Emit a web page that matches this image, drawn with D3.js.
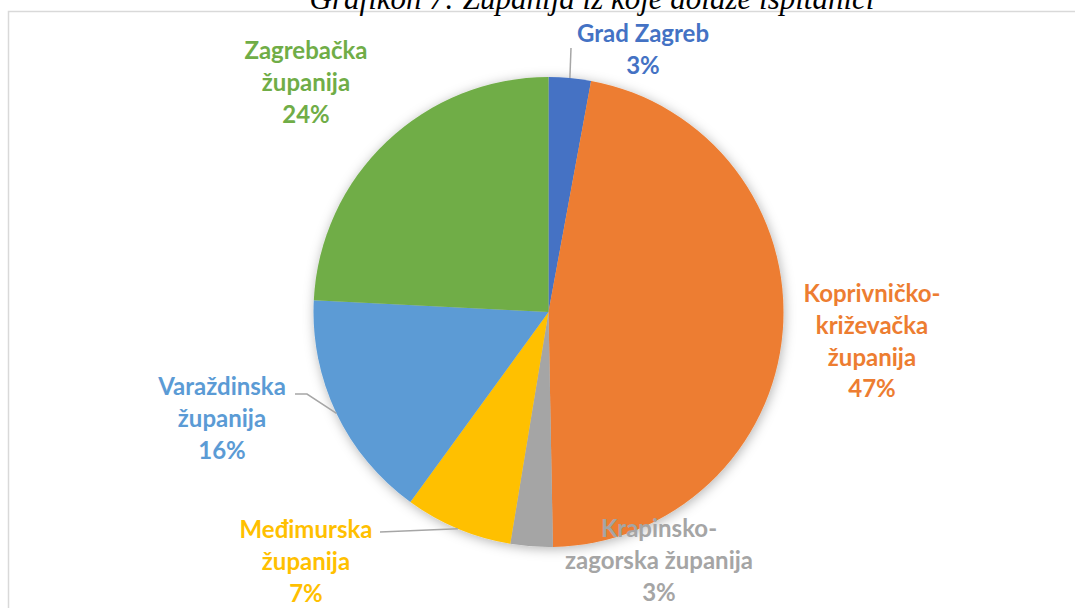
<!DOCTYPE html>
<html>
<head>
<meta charset="utf-8">
<script src="https://cdn.jsdelivr.net/npm/d3@7"></script>
<style>
  html, body { margin: 0; padding: 0; background: #fff; overflow: hidden; }
  .lbl { font-family: Lato, "Open Sans", sans-serif; font-weight: bold; font-size: 24px; }
  .title { font-family: "Liberation Serif", "Times New Roman", serif; font-style: italic; font-size: 31px; }
</style>
</head>
<body>
<svg id="svg" width="1075" height="608"></svg>
<script>
// data (shares in %, labels as printed)
var categories = ['Grad Zagreb', 'Koprivničko-križevačka županija', 'Krapinsko-zagorska županija',
                  'Međimurska županija', 'Varaždinska županija', 'Zagrebačka županija'];
var shares = [2.9, 46.8, 2.9, 7.4, 15.8, 24.2];
var percentLabels = ['3%', '47%', '3%', '7%', '16%', '24%'];
var labelLines = [
    ['Grad Zagreb'],
    ['Koprivničko-', 'križevačka', 'županija'],
    ['Krapinsko-', 'zagorska županija'],
    ['Međimurska', 'županija'],
    ['Varaždinska', 'županija'],
    ['Zagrebačka', 'županija']
];
var colors = ['#4472C4', '#ED7D31', '#A5A5A5', '#FFC000', '#5B9BD5', '#70AD47'];

// layout: label anchor (centre x, first baseline) and the leader line's outer points
var labelLayout = [
    { x: 643, y: 42, leader: [[571, 48]] },
    { x: 872, y: 302 },
    { x: 659, y: 537 },
    { x: 306, y: 538, leader: [[380, 532]] },
    { x: 222, y: 395, leader: [[295, 394], [307, 394]] },
    { x: 306, y: 59 }
];

var cx = 548.5, cy = 312, radius = 235;
var lineHeight = 31.8;

var svg = d3.select('#svg');

// frame
svg.append('rect')
    .attr('x', 8.5).attr('y', 11.5)
    .attr('width', 1100).attr('height', 700)
    .attr('fill', 'none')
    .attr('stroke', '#d9d9d9')
    .attr('stroke-width', 1.5);

// title (cut off at the top, as in the source)
svg.append('text')
    .attr('class', 'title')
    .attr('x', 592).attr('y', 9)
    .attr('text-anchor', 'middle')
    .attr('fill', '#000')
    .text('Grafikon 7: Županija iz koje dolaze ispitanici');

var defs = svg.append('defs');
var filter = defs.append('filter')
    .attr('id', 'shadow')
    .attr('x', '-20%').attr('y', '-20%')
    .attr('width', '140%').attr('height', '140%');
filter.append('feDropShadow')
    .attr('dx', 1).attr('dy', 2)
    .attr('stdDeviation', 6)
    .attr('flood-color', '#000')
    .attr('flood-opacity', 0.3);

var pie = d3.pie().sort(null).value(function(d) { return d; });
var arcs = pie(shares);
var arc = d3.arc().innerRadius(0).outerRadius(radius);

var g = svg.append('g')
    .attr('transform', 'translate(' + cx + ',' + cy + ')');

g.append('g')
    .attr('filter', 'url(#shadow)')
    .selectAll('path')
    .data(arcs)
    .enter()
    .append('path')
    .attr('d', arc)
    .attr('fill', function(d, i) { return colors[i]; });

// leader lines: from label side to the rim at the slice's mid angle
arcs.forEach(function(d, i) {
    var lay = labelLayout[i];
    if (!lay.leader) return;
    var mid = (d.startAngle + d.endAngle) / 2;
    var rim = [cx + radius * Math.sin(mid), cy - radius * Math.cos(mid)];
    var pts = lay.leader.concat([rim]);
    svg.append('path')
        .attr('d', d3.line()(pts))
        .attr('fill', 'none')
        .attr('stroke', '#a6a6a6')
        .attr('stroke-width', 1.5);
});

// labels
categories.forEach(function(c, i) {
    var lay = labelLayout[i];
    var lines = labelLines[i].concat([percentLabels[i]]);
    var t = svg.append('text')
        .attr('class', 'lbl')
        .attr('text-anchor', 'middle')
        .attr('fill', colors[i]);
    lines.forEach(function(s, k) {
        t.append('tspan')
            .attr('x', lay.x)
            .attr('y', lay.y + k * lineHeight)
            .text(s);
    });
});
</script>
</body>
</html>
